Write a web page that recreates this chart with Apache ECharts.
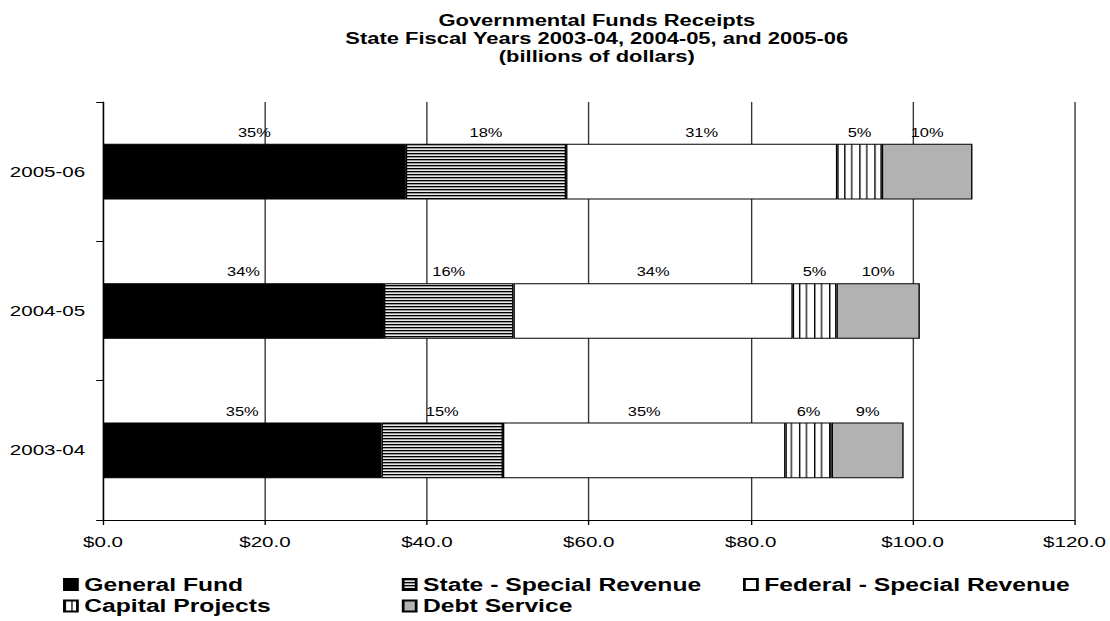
<!DOCTYPE html>
<html>
<head>
<meta charset="utf-8">
<title>Governmental Funds Receipts</title>
<script src="https://cdn.jsdelivr.net/npm/echarts@6/dist/echarts.min.js"></script>
<style>
  html, body { margin: 0; padding: 0; background: #fff; overflow: hidden; }
  /* The chart is laid out narrow and widened horizontally, giving the wide-set lettering of the original figure */
  #chart { width: 810px; height: 621px; transform: scaleX(1.37037); transform-origin: 0 0; }
</style>
</head>
<body>
<div id="chart"></div>
<script>
// Fiscal years (bottom to top)
const categories = ['2003-04', '2004-05', '2005-06'];

// Receipts by fund type, billions of dollars
const generalFund     = [34.4, 34.7, 37.4];
const stateSpecial    = [15.0, 16.0, 19.8];
const federalSpecial  = [34.9, 34.5, 33.5];
const capitalProjects = [5.7, 5.4, 5.5];
const debtService     = [8.9, 10.3, 11.2];

const seriesNames = ['General Fund', 'State - Special Revenue', 'Federal - Special Revenue', 'Capital Projects', 'Debt Service'];

// x axis range and step
const xMin = 0, xMax = 120, xStep = 20;

const FONT = '"Liberation Sans", Arial, Helvetica, sans-serif';

// yearly totals, used for the share labels
const allSeries = [generalFund, stateSpecial, federalSpecial, capitalProjects, debtService];
const totals = categories.map((_, i) => allSeries.reduce((s, arr) => s + arr[i], 0));

// small tiled fills
function makePattern(w, h, paint) {
  const c = document.createElement('canvas');
  c.width = w; c.height = h;
  const ctx = c.getContext('2d');
  paint(ctx, w, h);
  return { image: c, repeat: 'repeat' };
}

// fine horizontal rules for State - Special Revenue
const hStripes = makePattern(4, 3, (ctx, w) => {
  ctx.fillStyle = '#000'; ctx.fillRect(0, 0, w, 1);
  ctx.fillStyle = '#999'; ctx.fillRect(0, 1, w, 1);
  ctx.fillStyle = '#e8e8e8'; ctx.fillRect(0, 2, w, 1);
});

// vertical rules for Capital Projects
const vStripes = makePattern(11, 4, (ctx, w, h) => {
  ctx.fillStyle = '#fff'; ctx.fillRect(0, 0, w, h);
  ctx.fillStyle = '#000';
  ctx.fillRect(0, 0, 1, h);
  ctx.fillRect(5, 0, 1, h);
});

const fills = ['#000000', hStripes, '#ffffff', vStripes, '#b2b2b2'];

const chart = echarts.init(document.getElementById('chart'), null, { renderer: 'svg' });

const legendPos = [
  { left: 46, top: 575.5 },
  { left: 293.2, top: 575.5 },
  { left: 542.2, top: 575.5 },
  { left: 46, top: 597 },
  { left: 293.2, top: 597 }
];

const option = {
  animation: false,
  backgroundColor: '#ffffff',
  title: {
    text: 'Governmental Funds Receipts\nState Fiscal Years 2003-04, 2004-05, and 2005-06\n(billions of dollars)',
    left: 430.5,
    top: 6.5,
    textAlign: 'center',
    textStyle: { fontFamily: FONT, fontSize: 16, fontWeight: 'bold', color: '#000', lineHeight: 18 }
  },
  legend: seriesNames.map((name, i) => ({
    data: [name],
    left: legendPos[i].left,
    top: legendPos[i].top,
    padding: 0,
    itemWidth: 9.5,
    itemHeight: 11,
    icon: 'rect',
    selectedMode: false,
    textStyle: { fontFamily: FONT, fontSize: 18, fontWeight: 'bold', color: '#000' }
  })),
  grid: { left: 75.2, right: 23.4, top: 102, bottom: 101, containLabel: false },
  xAxis: {
    type: 'value',
    min: xMin,
    max: xMax,
    interval: xStep,
    axisLine: { show: true, lineStyle: { color: '#000', width: 1 } },
    axisTick: { show: true, length: 5, lineStyle: { color: '#000' } },
    axisLabel: {
      margin: 14,
      fontFamily: FONT,
      fontSize: 15,
      color: '#000',
      formatter: v => '$' + v.toFixed(1)
    },
    splitLine: { show: true, lineStyle: { color: '#333', width: 1 } }
  },
  yAxis: {
    type: 'category',
    data: categories,
    axisLine: { show: true, lineStyle: { color: '#000', width: 1 } },
    axisTick: { show: true, length: 5, lineStyle: { color: '#000' } },
    axisLabel: { margin: 13, fontFamily: FONT, fontSize: 15, color: '#000' },
    splitLine: { show: false }
  },
  series: allSeries.map((vals, k) => ({
    name: seriesNames[k],
    type: 'bar',
    stack: 'total',
    barWidth: '40%',
    data: vals,
    itemStyle: { color: fills[k], borderColor: '#000', borderWidth: 1 },
    emphasis: { disabled: true },
    label: {
      show: true,
      position: 'top',
      distance: 5,
      fontFamily: FONT,
      fontSize: 12,
      color: '#000',
      formatter: p => Math.round(p.value / totals[p.dataIndex] * 100) + '%'
    }
  }))
};

chart.setOption(option);
</script>
</body>
</html>
